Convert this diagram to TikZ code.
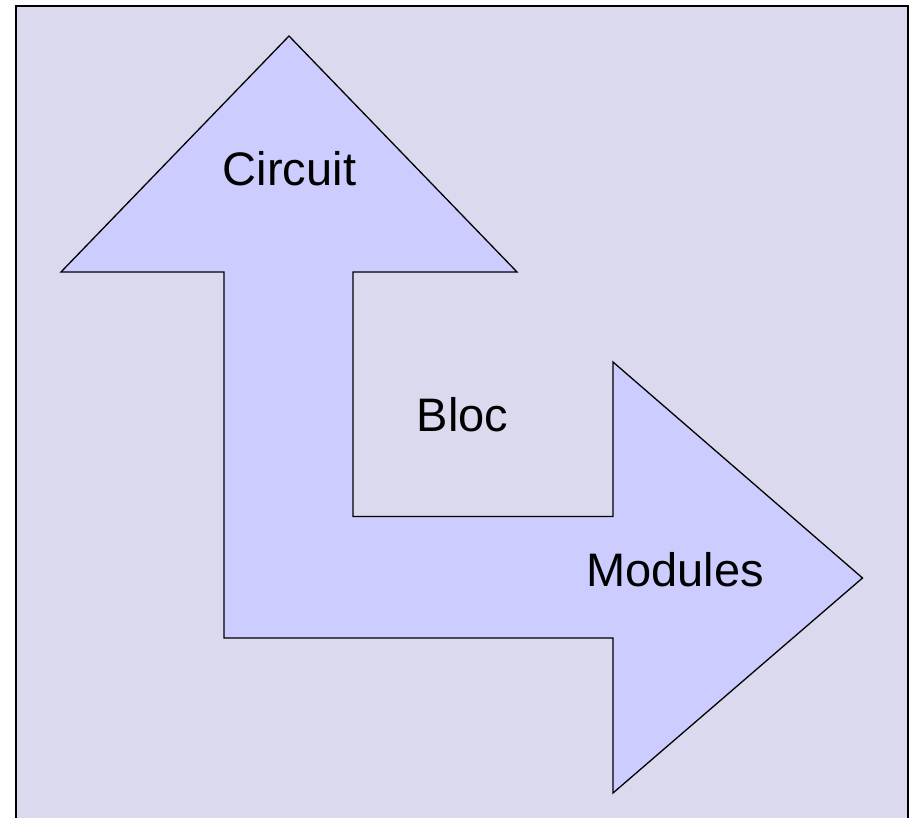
\documentclass[tikz,border=0pt]{standalone}
\usepackage{fontspec}
\setmainfont{Liberation Sans}
\definecolor{bgcol}{RGB}{218,217,237}
\definecolor{arrowcol}{RGB}{204,204,255}
\begin{document}
\begin{tikzpicture}[x=1pt,y=1pt,
  lbl/.style={font=\fontsize{47}{56}\selectfont, text=black, inner sep=0pt, anchor=center}]
\useasboundingbox (0,0) rectangle (915,817);
\fill[white] (0,0) rectangle (915,817);
\draw[fill=bgcol, line width=1.8pt] (16,-5) rectangle (908,811);
\draw[fill=arrowcol, line width=1.3pt, line join=miter]
  (289,781) -- (517,545) -- (353,545) -- (353,300.5) -- (613,300.5) -- (613,455)
  -- (862.5,239) -- (613,24) -- (613,179) -- (224,179) -- (224,545) -- (61,545) -- cycle;
\node[lbl] (circuit) at (289.5,648.5) {Circuit};
\node[lbl] (bloc) at (462.5,402) {Bloc};
\node[lbl] (modules) at (675,247) {Modules};
\end{tikzpicture}
\end{document}
